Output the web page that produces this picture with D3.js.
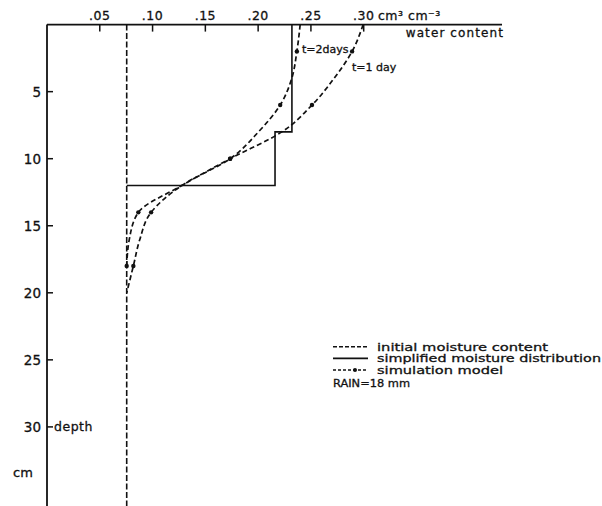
<!DOCTYPE html>
<html>
<head>
<meta charset="utf-8">
<script src="https://cdn.jsdelivr.net/npm/d3@7"></script>
<style>
  body { margin: 0; background: #fff; }
  text { font-family: "DejaVu Sans", sans-serif; fill: #111; stroke: #111; stroke-width: 0.3px; }
</style>
</head>
<body>
<svg id="chart"></svg>
<script>
const width = 602;
const height = 506;

// x ticks (water content) and y ticks (depth)
const thetaTicks = [0.05, 0.1, 0.15, 0.2, 0.25, 0.3];
const thetaTickLabels = [".05", ".10", ".15", ".20", ".25", ".30"];
const depthTicks = [5, 10, 15, 20, 25, 30];

// initial moisture content
const initialTheta = 0.0755;

// simplified moisture distribution (step profile)
const simplifiedDepth = [0, 8, 8, 12, 12];
const simplifiedTheta = [0.232, 0.232, 0.216, 0.216, 0.0755];

// simulation model, t = 1 day
const day1Depth = [0, 2, 4, 6, 8, 10, 12, 14, 16, 18];
const day1Theta = [0.2995, 0.289, 0.272, 0.251, 0.2225, 0.1735, 0.1277, 0.0865, 0.078, 0.0755];

// simulation model, t = 2 days
const day2Depth = [0, 2, 4, 6, 8, 10, 12, 14, 16, 18, 20];
const day2Theta = [0.2398, 0.2367, 0.2319, 0.2209, 0.2003, 0.1735, 0.1277, 0.0986, 0.088, 0.0818, 0.0755];

// depths where the simulation curves carry a dot
const markerDepths = [2, 6, 10, 14, 18];

const legendLabels = ["initial moisture content", "simplified moisture distribution", "simulation model"];

const svg = d3.select("#chart").attr("width", width).attr("height", height);

const x = d3.scaleLinear().domain([0, 0.431]).range([47, 502]);
const y = d3.scaleLinear().domain([0, 36]).range([24.6, 24.6 + 36 * 13.41]);

// top axis
svg.append("line")
  .attr("x1", x(0)).attr("x2", x(0.431))
  .attr("y1", y(0)).attr("y2", y(0))
  .attr("stroke", "#111").attr("stroke-width", 1.8);

svg.selectAll(".xtick")
  .data(thetaTicks)
  .enter()
  .append("line")
  .attr("x1", (d) => x(d)).attr("x2", (d) => x(d))
  .attr("y1", y(0)).attr("y2", y(0) + 7)
  .attr("stroke", "#111").attr("stroke-width", 1.5);

svg.selectAll(".xlabel")
  .data(thetaTicks)
  .enter()
  .append("text")
  .attr("x", (d) => x(d))
  .attr("y", 20)
  .attr("text-anchor", "middle")
  .style("font-size", "12.5px")
  .style("letter-spacing", "0.5px")
  .text((d, i) => thetaTickLabels[i]);

svg.append("text")
  .attr("x", 378).attr("y", 20)
  .style("font-size", "12.5px")
  .style("letter-spacing", "0.5px")
  .text("cm³ cm⁻³");

svg.append("text")
  .attr("x", 504).attr("y", 37)
  .attr("text-anchor", "end")
  .style("font-size", "12px")
  .style("letter-spacing", "1.1px")
  .text("water content");

// left axis
svg.append("line")
  .attr("x1", x(0)).attr("x2", x(0))
  .attr("y1", y(0)).attr("y2", height)
  .attr("stroke", "#111").attr("stroke-width", 1.8);

svg.selectAll(".ytick")
  .data(depthTicks)
  .enter()
  .append("line")
  .attr("x1", x(0)).attr("x2", x(0) + 6)
  .attr("y1", (d) => y(d)).attr("y2", (d) => y(d))
  .attr("stroke", "#111").attr("stroke-width", 1.5);

svg.selectAll(".ylabel")
  .data(depthTicks)
  .enter()
  .append("text")
  .attr("x", 41)
  .attr("y", (d) => y(d))
  .attr("dy", "0.36em")
  .attr("text-anchor", "end")
  .style("font-size", "13.5px")
  .text((d) => d);

svg.append("text")
  .attr("x", 54).attr("y", y(30)).attr("dy", "0.36em")
  .style("font-size", "12.5px")
  .style("letter-spacing", "0.5px")
  .text("depth");

svg.append("text")
  .attr("x", 13).attr("y", 472).attr("dy", "0.36em")
  .style("font-size", "13px")
  .text("cm");

// initial moisture content
svg.append("line")
  .attr("x1", x(initialTheta)).attr("x2", x(initialTheta))
  .attr("y1", y(0)).attr("y2", height)
  .attr("stroke", "#111").attr("stroke-width", 1.6)
  .attr("stroke-dasharray", "6,2.5");

// simplified distribution
const stepLine = d3.line()
  .x((d) => x(d[0]))
  .y((d) => y(d[1]));

svg.append("path")
  .attr("d", stepLine(d3.zip(simplifiedTheta, simplifiedDepth)))
  .attr("fill", "none")
  .attr("stroke", "#111")
  .attr("stroke-width", 1.6);

// simulation curves
const curve = d3.line()
  .x((d) => x(d[0]))
  .y((d) => y(d[1]))
  .curve(d3.curveMonotoneY);

[
  d3.zip(day1Theta, day1Depth),
  d3.zip(day2Theta, day2Depth),
].forEach((pts) => {
  svg.append("path")
    .attr("d", curve(pts))
    .attr("fill", "none")
    .attr("stroke", "#111")
    .attr("stroke-width", 1.7)
    .attr("stroke-dasharray", "5,3");

  svg.selectAll(null)
    .data(pts.filter((p) => markerDepths.includes(p[1])))
    .enter()
    .append("circle")
    .attr("cx", (d) => x(d[0]))
    .attr("cy", (d) => y(d[1]))
    .attr("r", 2.2)
    .attr("fill", "#111");
});

svg.append("text")
  .attr("x", 302).attr("y", 53)
  .style("font-size", "11px")
  .text("t=2days");

svg.append("text")
  .attr("x", 352).attr("y", 71)
  .style("font-size", "11px")
  .text("t=1 day");

// legend
const legendY = [346.7, 358.3, 370];
const legendWidths = [171, 224, 126];
const legend = svg.append("g");

legend.append("line")
  .attr("x1", 333).attr("x2", 368)
  .attr("y1", legendY[0]).attr("y2", legendY[0])
  .attr("stroke", "#111").attr("stroke-width", 1.5)
  .attr("stroke-dasharray", "4,2");

legend.append("line")
  .attr("x1", 333).attr("x2", 368)
  .attr("y1", legendY[1]).attr("y2", legendY[1])
  .attr("stroke", "#111").attr("stroke-width", 1.8);

legend.append("line")
  .attr("x1", 333).attr("x2", 368)
  .attr("y1", legendY[2]).attr("y2", legendY[2])
  .attr("stroke", "#111").attr("stroke-width", 1.5)
  .attr("stroke-dasharray", "3,2");

legend.append("circle")
  .attr("cx", 355).attr("cy", legendY[2]).attr("r", 2)
  .attr("fill", "#111");

legend.selectAll("text")
  .data(legendLabels)
  .enter()
  .append("text")
  .attr("x", 377)
  .attr("y", (d, i) => legendY[i])
  .attr("dy", "0.36em")
  .attr("textLength", (d, i) => legendWidths[i])
  .attr("lengthAdjust", "spacingAndGlyphs")
  .style("font-size", "11px")
  .text((d) => d);

legend.append("text")
  .attr("x", 333).attr("y", 383).attr("dy", "0.36em")
  .attr("textLength", 77)
  .attr("lengthAdjust", "spacingAndGlyphs")
  .style("font-size", "11px")
  .text("RAIN=18 mm");
</script>
</body>
</html>
